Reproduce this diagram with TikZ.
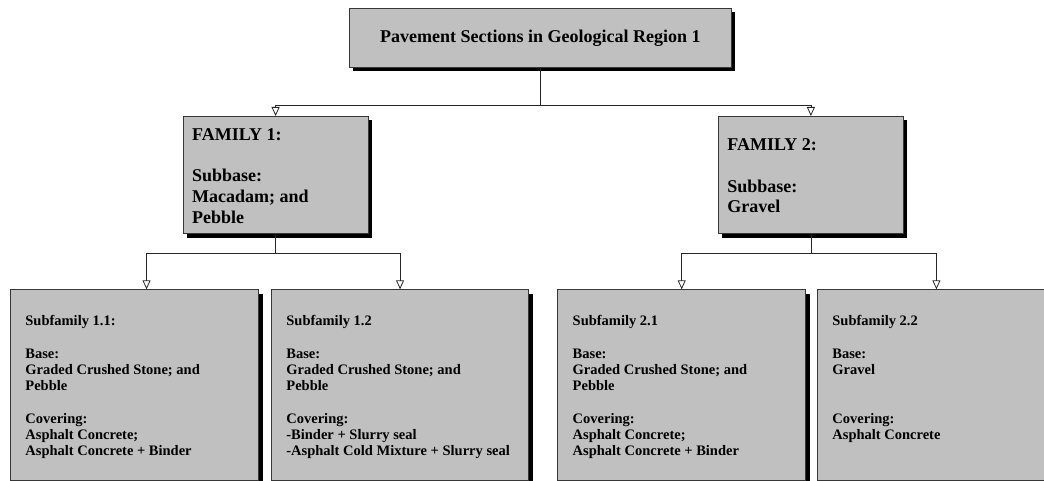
\documentclass[tikz,border=0pt]{standalone}
\usepackage{fontspec}
\setmainfont{Liberation Serif}
\usepackage{xcolor}
\usetikzlibrary{arrows.meta,shadows}

\definecolor{boxgray}{RGB}{192,192,192}
\definecolor{edgegray}{RGB}{55,55,55}
\newcommand{\boxtext}[2]{\makebox[#1][l]{\begin{tabular}{@{}l@{}}#2\\ \noalign{\vskip-5pt}\end{tabular}}}

\begin{document}
\begin{tikzpicture}[x=1pt,y=-1pt,
  card/.style={draw=edgegray,line width=0.8pt,fill=boxgray,anchor=north west,inner ysep=0pt,
    drop shadow={shadow xshift=4pt,shadow yshift=-4pt,fill=black,opacity=1}},
  topcard/.style={card,minimum width=382pt,minimum height=58.7pt,font=\fontsize{18}{20.8}\selectfont\bfseries},
  famcard/.style={card,inner xsep=9pt,minimum height=117.3pt,font=\fontsize{18}{20.8}\selectfont\bfseries},
  subcard/.style={card,inner xsep=15pt,minimum height=191pt,font=\fontsize{14.5}{16.25}\selectfont\bfseries},
  link/.style={draw=black!85,line width=0.8pt,-{Triangle[open,width=8pt,length=9pt]}},
  trunk/.style={draw=black!85,line width=0.8pt}]
\useasboundingbox (0,0) rectangle (1044,481);
\clip (0,0) rectangle (1044,481);
%top
\node[topcard] (top) at (349,8) {Pavement Sections in Geological Region 1};
%families
\node[famcard] (fam1) at (182.7,116) {\boxtext{167pt}{FAMILY 1:\\ \\ Subbase:\\ Macadam; and\\ Pebble}};
\node[famcard] (fam2) at (718,116) {\boxtext{167pt}{FAMILY 2:\\ \\ Subbase:\\ Gravel}};
%subfamilies
\node[subcard] (sub11) at (10,289.3) {\boxtext{218.3pt}{Subfamily 1.1:\\ \\ Base:\\ Graded Crushed Stone; and\\ Pebble\\ \\ Covering:\\ Asphalt Concrete;\\ Asphalt Concrete + Binder}};
\node[subcard] (sub12) at (271,289.3) {\boxtext{227.3pt}{Subfamily 1.2\\ \\ Base:\\ Graded Crushed Stone; and\\ Pebble\\ \\ Covering:\\ -Binder + Slurry seal\\ -Asphalt Cold Mixture + Slurry seal}};
\node[subcard] (sub21) at (557.3,289.3) {\boxtext{218pt}{Subfamily 2.1\\ \\ Base:\\ Graded Crushed Stone; and\\ Pebble\\ \\ Covering:\\ Asphalt Concrete;\\ Asphalt Concrete + Binder}};
\node[subcard] (sub22) at (817,289.3) {\boxtext{208pt}{Subfamily 2.2\\ \\ Base:\\ Gravel\\ \\ \\ Covering:\\ Asphalt Concrete\\ \mbox{}}};
%links
\draw[trunk,line width=1.6pt] (top.south) -- ++(0,37.6) coordinate (jtop);
\draw[link] (jtop) -| (fam1.north);
\draw[link] (jtop) -| (fam2.north);
\draw[trunk] (fam1.south) -- ++(0,19.4) coordinate (jf1);
\draw[link] (jf1) -| ([xshift=12pt]sub11.north);
\draw[link] (jf1) -| (sub12.north);
\draw[trunk] (fam2.south) -- ++(0,19.4) coordinate (jf2);
\draw[link] (jf2) -| (sub21.north);
\draw[link] (jf2) -| (sub22.north);
\end{tikzpicture}
\end{document}
